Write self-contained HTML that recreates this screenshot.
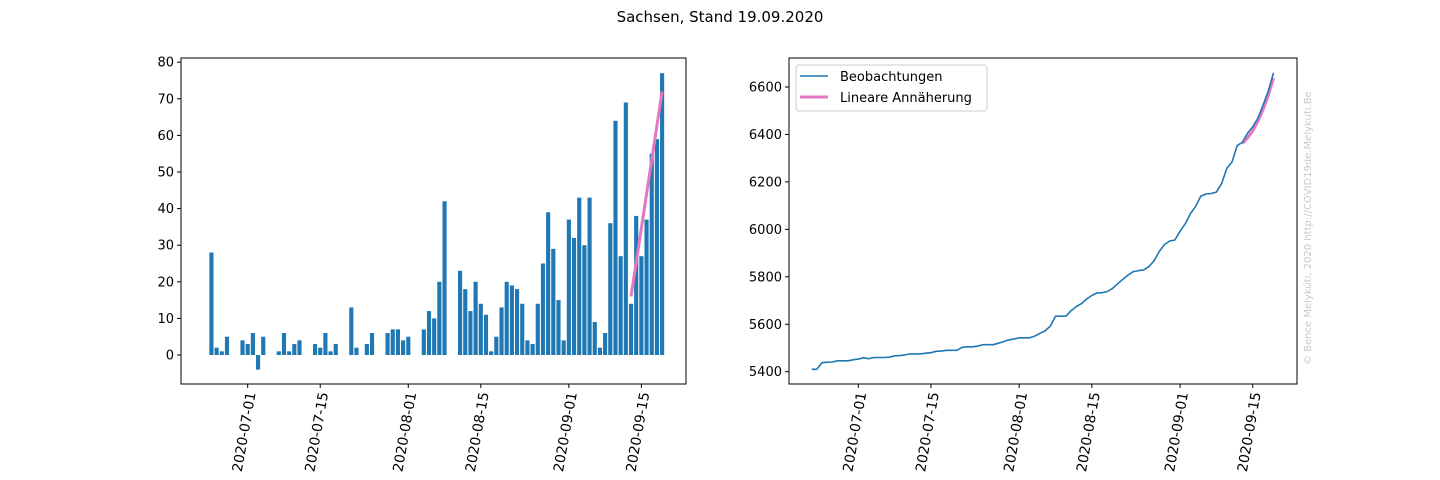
<!DOCTYPE html>
<html><head><meta charset="utf-8"><style>
body{margin:0;background:#fff;}
svg{display:block;font-family:"DejaVu Sans","Liberation Sans",sans-serif;}
</style></head><body>
<svg id="fig" width="1440" height="480" viewBox="0 0 1440 480">
<text x="720" y="22" text-anchor="middle" font-size="15">Sachsen, Stand 19.09.2020</text>
<g id="left"></g>
<g id="right"></g>
<text transform="translate(1311,365) rotate(-90)" font-size="10" fill="#c8c8c8">© Bence Melykúti, 2020  http://COVID19de.Melykuti.Be</text>
</svg>
<script>
// day index 0 = 2020-07-01
const dailyStart = -7; // 2020-06-24
const dailyValues = [28,2,1,5,0,0,4,3,6,-4,5,0,0,1,6,1,3,4,0,0,3,2,6,1,3,0,0,13,2,0,3,6,0,0,6,7,7,4,5,0,0,7,12,10,20,42,0,0,23,18,12,20,14,11,1,5,13,20,19,18,14,4,3,14,25,39,29,15,4,37,32,43,30,43,9,2,6,36,64,27,69,14,38,27,37,55,59,77];
const fitDays = [74,80];
const fitDaily = [16,72];
const cumStart = -9; // 2020-06-22
const cumValues = [5410,5410,5438,5440,5441,5446,5446,5446,5450,5453,5459,5455,5460,5460,5460,5461,5467,5468,5471,5475,5475,5475,5478,5480,5486,5487,5490,5490,5490,5503,5505,5505,5508,5514,5514,5514,5520,5527,5534,5538,5543,5543,5543,5550,5562,5572,5592,5634,5634,5634,5657,5675,5687,5707,5721,5732,5733,5738,5751,5771,5790,5808,5822,5826,5829,5843,5868,5907,5936,5951,5955,5992,6024,6067,6097,6140,6149,6151,6157,6193,6257,6284,6353,6367,6405,6432,6469,6524,6583,6660];
const fitCumStart = 74;
const fitCumValues = [6362,6385,6415,6455,6505,6565,6638];
const dateTicks = [0,14,31,45,62,76];
const dateLabels = ["2020-07-01","2020-07-15","2020-08-01","2020-08-15","2020-09-01","2020-09-15"];
const leftYTicks = [0,10,20,30,40,50,60,70,80];
const rightYTicks = [5400,5600,5800,6000,6200,6400,6600];

const NS="http://www.w3.org/2000/svg";
function mk(tag,attrs,parent){const e=document.createElementNS(NS,tag);for(const k in attrs)e.setAttribute(k,attrs[k]);parent.appendChild(e);return e;}

function axes(g,L,T,R,B,xs,ys,yTicks,prefix){
  dateTicks.forEach((d,i)=>{
    const x=xs(d);
    const t=mk('line',{x1:x,x2:x,y1:B,y2:B+4,stroke:'#000','stroke-width':1},g);
    
    
    const lb=mk('text',{transform:`translate(${x+8},${B+9}) rotate(-80)`,'text-anchor':'end','font-size':13.9},g);
    lb.textContent=dateLabels[i];
    
    
  });
  yTicks.forEach(v=>{
    const y=ys(v);
    const t=mk('line',{x1:L-4,x2:L,y1:y,y2:y,stroke:'#000','stroke-width':1},g);
    
    
    const lb=mk('text',{x:L-7,y:y+4.5,'text-anchor':'end','font-size':13},g);
    lb.textContent=v;
    
    
  });
  const fr=mk('rect',{x:L,y:T,width:R-L,height:B-T,fill:'none',stroke:'#000','stroke-width':1},g);
  
  
}

// LEFT
(function(){
  const g=document.getElementById('left');
  const L=181,T=58,R=686,B=384;
  const xs=d=>247.7+5.18*d;
  const ys=v=>355-3.66*v;
  dailyValues.forEach((v,i)=>{
    if(v===0)return;
    const x=xs(dailyStart+i);
    const y0=ys(0),y1=ys(v);
    const r=mk('rect',{x:x-2.07,y:Math.min(y0,y1),width:4.14,height:Math.abs(y1-y0),fill:'#1f77b4'},g);
    
    
  });
  const ln=mk('line',{x1:xs(fitDays[0]),y1:ys(fitDaily[0]),x2:xs(fitDays[1]),y2:ys(fitDaily[1]),stroke:'#e377c2','stroke-width':3},g);
  
  
  axes(g,L,T,R,B,xs,ys,leftYTicks,'left');
})();

// RIGHT
(function(){
  const g=document.getElementById('right');
  const L=789,T=58,R=1297,B=384;
  const xs=d=>858.3+5.19*d;
  const ys=v=>371.7-(v-5400)*0.23725;
  const pts=cumValues.map((v,i)=>xs(cumStart+i).toFixed(1)+','+ys(v).toFixed(1)).join(' ');
  const fpts=fitCumValues.map((v,i)=>xs(fitCumStart+i).toFixed(1)+','+ys(v).toFixed(1)).join(' ');
  const fl=mk('polyline',{points:fpts,fill:'none',stroke:'#e377c2','stroke-width':3},g);
  
  
  const pl=mk('polyline',{points:pts,fill:'none',stroke:'#1f77b4','stroke-width':1.6,'stroke-linejoin':'round'},g);
  
  
  axes(g,L,T,R,B,xs,ys,rightYTicks,'right');
  const lg=mk('g',{},g);
  
  
  mk('rect',{x:796,y:65,width:191,height:46,rx:3,fill:'#fff',stroke:'#ccc','stroke-width':1},lg);
  const e1=mk('line',{x1:800,x2:828,y1:76,y2:76,stroke:'#1f77b4','stroke-width':1.6},lg);
  
  
  const t1=mk('text',{x:840,y:81,'font-size':13},lg);t1.textContent='Beobachtungen';
  
  
  const e2=mk('line',{x1:800,x2:828,y1:97,y2:97,stroke:'#e377c2','stroke-width':3},lg);
  
  
  const t2=mk('text',{x:840,y:102,'font-size':13},lg);t2.textContent='Lineare Annäherung';
  
  
})();
</script>
</body></html>
